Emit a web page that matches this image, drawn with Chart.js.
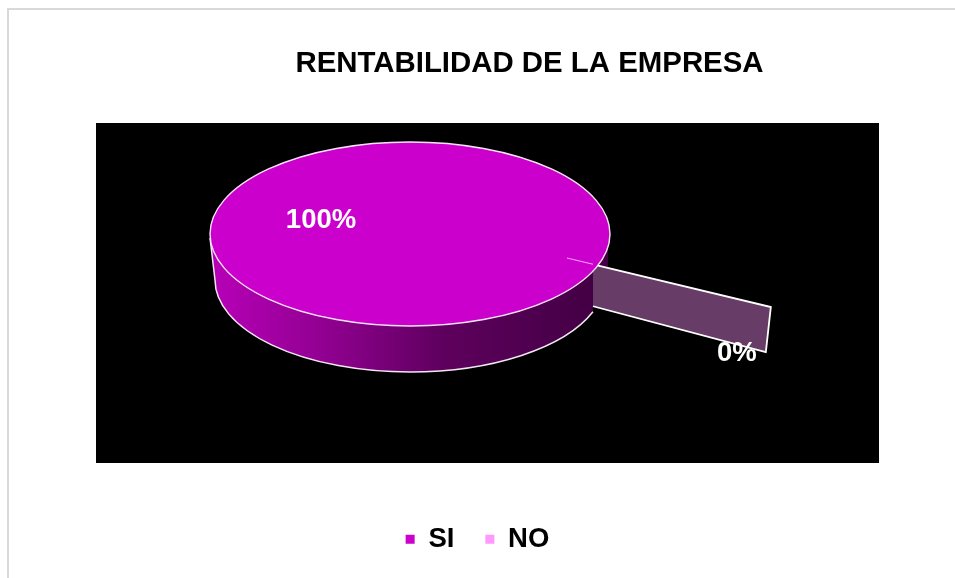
<!DOCTYPE html>
<html>
<head>
<meta charset="utf-8">
<style>html,body{margin:0;padding:0;background:#fff}canvas{display:block}</style>
<script src="https://cdn.jsdelivr.net/npm/chart.js@4"></script>
</head>
<body>
<canvas id="c" width="955" height="578"></canvas>
<script>
const categories = ['SI', 'NO'];
const values = [100, 0];
const colors = ['#CC00CC', '#FF99FF'];
const chartTitle = 'RENTABILIDAD DE LA EMPRESA';

const SQUASH = 0.46;
const CENTER = {x: 410, y: 234};
const DEPTH = 46;
const FONT = '"Liberation Sans", Arial, sans-serif';

function geometry(chart) {
  const meta = chart.getDatasetMeta(0);
  const no = meta.data[1];
  const R = no.outerRadius;
  const a = no.startAngle;
  const ox = CENTER.x + 0.785 * R, oy = CENTER.y + 0.12 * R;
  const ex = ox + 1.15 * R * Math.cos(a), ey = oy + 1.15 * R * Math.sin(a) * SQUASH;
  const t = 26 / (ex - ox);
  return {meta, R, ox, oy, ex, ey, mx: ox + (ex - ox) * t, my: oy + (ey - oy) * t};
}

const pie3d = {
  id: 'pie3d',
  afterLayout(chart) {
    chart.titleBlock.left += 52;
    chart.titleBlock.right += 52;
  },
  beforeDraw(chart) {
    const c = chart.ctx;
    c.save();
    c.strokeStyle = '#d9d9d9';
    c.lineWidth = 2;
    c.beginPath();
    c.moveTo(8, 578); c.lineTo(8, 9); c.lineTo(955, 9);
    c.stroke();
    c.fillStyle = '#000';
    c.fillRect(96, 123, 783, 340);
    c.restore();
  },
  beforeDatasetsDraw(chart) {
    const c = chart.ctx;
    const g = geometry(chart);
    const R = g.R;
    const bx = CENTER.x, by = CENTER.y + DEPTH, brx = 0.975 * R, bry = SQUASH * R;
    c.save();
    const grad = c.createLinearGradient(CENTER.x - R, 0, CENTER.x + 0.95 * R, 0);
    grad.addColorStop(0, '#b800b8');
    grad.addColorStop(0.3, '#900090');
    grad.addColorStop(0.6, '#5e005e');
    grad.addColorStop(1, '#420042');
    c.fillStyle = grad;
    c.beginPath();
    c.moveTo(CENTER.x - R, CENTER.y + 4);
    c.lineTo(bx - brx, by);
    c.ellipse(bx, by, brx, bry, 0, Math.PI, 0.353, true);
    c.lineTo(g.mx, g.my);
    c.lineTo(CENTER.x + 0.99 * R, g.my + 4);
    c.lineTo(CENTER.x + 0.99 * R, CENTER.y);
    c.closePath();
    c.fill();
    c.strokeStyle = '#f2e6f2';
    c.lineWidth = 1.5;
    c.beginPath();
    c.moveTo(CENTER.x - R, CENTER.y + 4);
    c.lineTo(bx - brx, by);
    c.ellipse(bx, by, brx, bry, 0, Math.PI, 0.353, true);
    c.stroke();
    // exploded zero slice, seen edge-on
    c.fillStyle = '#673c66';
    c.beginPath();
    c.moveTo(g.mx, g.my);
    c.lineTo(g.ex, g.ey);
    c.lineTo(g.ex - 5, g.ey + 45);
    c.lineTo(g.mx, g.my + 42);
    c.closePath();
    c.fill();
    c.strokeStyle = '#ffffff';
    c.lineWidth = 1.8;
    c.beginPath();
    c.moveTo(g.mx, g.my);
    c.lineTo(g.ex, g.ey);
    c.lineTo(g.ex - 5, g.ey + 45);
    c.lineTo(g.mx, g.my + 42);
    c.stroke();
    c.restore();
    c.save();
    const arc = g.meta.data[0];
    c.translate(CENTER.x, CENTER.y);
    c.scale(1, SQUASH);
    c.translate(-arc.x, -arc.y);
  },
  afterDatasetsDraw(chart) {
    const c = chart.ctx;
    c.restore();
    const g = geometry(chart);
    c.save();
    c.strokeStyle = '#f7e6f7';
    c.lineWidth = 1.4;
    c.beginPath();
    c.ellipse(CENTER.x, CENTER.y, g.R, g.R * SQUASH, 0, 0, Math.PI * 2);
    c.stroke();
    c.strokeStyle = '#ff99ff';
    c.lineWidth = 1.2;
    c.beginPath();
    c.moveTo(g.ox, g.oy);
    c.lineTo(g.mx, g.my);
    c.stroke();
    const total = values.reduce((s, v) => s + v, 0);
    c.fillStyle = '#fff';
    c.font = 'bold 27.5px ' + FONT;
    c.textAlign = 'center';
    c.textBaseline = 'middle';
    c.fillText(Math.round(values[0] / total * 100) + '%', CENTER.x - 0.445 * g.R, CENTER.y - 14);
    c.fillText(Math.round(values[1] / total * 100) + '%', g.ex - 34, g.ey + 46);
    c.restore();
  }
};

new Chart(document.getElementById('c'), {
  type: 'pie',
  data: {
    labels: categories,
    datasets: [{
      data: values,
      backgroundColor: colors,
      borderWidth: 0,
      clip: false
    }]
  },
  plugins: [pie3d],
  options: {
    responsive: false,
    animation: false,
    radius: 200,
    rotation: 117.6,
    layout: {padding: {top: 0, bottom: 15, left: 0, right: 0}},
    plugins: {
      tooltip: {enabled: false},
      title: {
        display: true,
        text: chartTitle,
        color: '#000',
        font: {family: FONT, size: 29.4, weight: 'bold'},
        padding: {top: 46, bottom: 10}
      },
      legend: {
        position: 'bottom',
        labels: {
          color: '#000',
          font: {family: FONT, size: 27.5, weight: 'bold'},
          boxWidth: 9,
          boxHeight: 9,
          padding: 31,
          generateLabels(chart) {
            return Chart.overrides.pie.plugins.legend.labels.generateLabels(chart)
              .map(l => Object.assign(l, {lineWidth: 0, strokeStyle: 'transparent', hidden: false}));
          }
        }
      }
    }
  }
});
</script>
</body>
</html>
